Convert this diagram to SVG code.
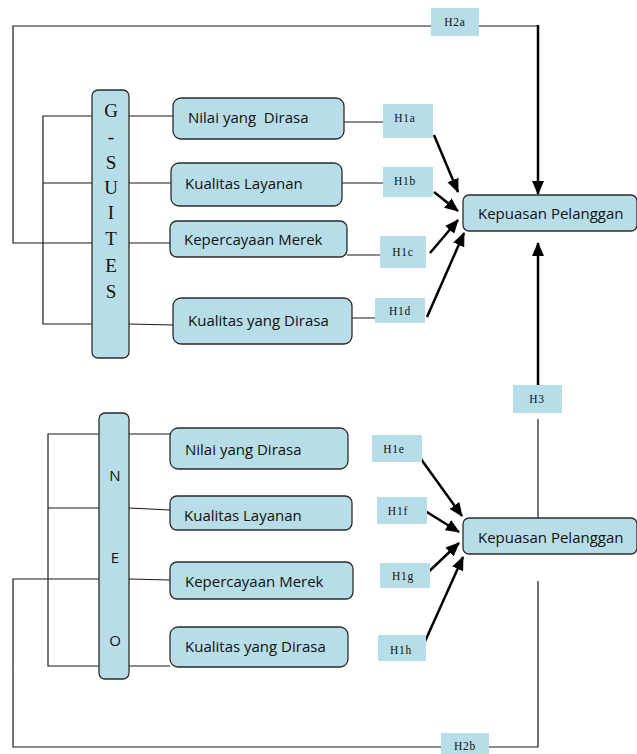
<svg xmlns="http://www.w3.org/2000/svg" width="637" height="754" viewBox="0 0 637 754">
<style>
.box{fill:#b7dde8;stroke:#2b2b2b;stroke-width:1.3}
.hb{fill:#b7dde8;stroke:none}
.t{font-family:"Open Sans","Noto Sans","Liberation Sans",sans-serif;font-size:15px;fill:#111}
.h{font-family:"Liberation Serif","DejaVu Serif",serif;font-size:11.5px;fill:#111;letter-spacing:0.8px;text-anchor:middle}
.gs{font-family:"Liberation Serif","DejaVu Serif",serif;font-size:19px;fill:#111;text-anchor:middle}
.neo{font-family:"Open Sans","Noto Sans","Liberation Sans",sans-serif;font-size:15px;fill:#111;text-anchor:middle}
.ln{fill:none;stroke:#1a1a1a;stroke-width:1.2}
.ar{fill:none;stroke:#000;stroke-width:2.5;marker-end:url(#ah)}
</style>
<defs>
<marker id="ah" markerUnits="userSpaceOnUse" markerWidth="14" markerHeight="12" viewBox="0 0 14 12" refX="13" refY="6" orient="auto">
<path d="M0,0 L14,6 L0,12 z" fill="#000"/>
</marker>
</defs>
<g id="connectors">
<!-- H2a loop -->
<path class="ln" d="M92,243 H13 V26 H431"/>
<path class="ln" d="M479,26 H538"/>
<path class="ar" d="M538,25 V194"/>
<!-- G-SUITES bracket -->
<path class="ln" d="M92,116 H43 V324 H92 M43,183 H92"/>
<path class="ln" d="M129,116 H173 M129,183 H171 M129,243 H170 M129,324 L173,325"/>
<path class="ln" d="M344,122 H385 M342,183 H385 M347,255 H382 M347,318 H377"/>
<path class="ar" d="M434,135 L458,192"/>
<path class="ar" d="M434,192 L458,211"/>
<path class="ar" d="M430,253 L458,220"/>
<path class="ar" d="M427,317 L464,233"/>
<!-- H3 -->
<path class="ar" d="M538,385 V243"/>
<path class="ln" d="M538,419 V518"/>
<!-- NEO bracket -->
<path class="ln" d="M99,434 H48 V666 H99 M48,508 H99 M99,579 H13 V747 H441"/>
<path class="ln" d="M489,747 H538 V581"/>
<path class="ln" d="M129,434 H170 M129,508 L170,510 M129,579 L170,580 M129,666 H170"/>
<path class="ar" d="M413,448 L462,516"/>
<path class="ar" d="M422,509 L459,532"/>
<path class="ar" d="M422,578 L459,543"/>
<path class="ar" d="M422,648 L463,557"/>
</g>
<g id="gsuites">
<rect class="box" x="92" y="90" width="37" height="268" rx="6"/>
<text class="gs" x="111" y="117">G</text>
<text class="gs" x="111" y="143">-</text>
<text class="gs" x="111" y="169">S</text>
<text class="gs" x="111" y="194">U</text>
<text class="gs" x="111" y="219">I</text>
<text class="gs" x="111" y="245">T</text>
<text class="gs" x="111" y="272">E</text>
<text class="gs" x="111" y="298">S</text>
</g>
<g id="nilai1"><rect class="box" x="173" y="98" width="171" height="41" rx="8"/><text class="t" x="188" y="123" xml:space="preserve">Nilai yang  Dirasa</text></g>
<g id="layanan1"><rect class="box" x="171" y="163" width="171" height="43" rx="8"/><text class="t" x="185" y="189">Kualitas Layanan</text></g>
<g id="merek1"><rect class="box" x="170" y="221" width="177" height="36" rx="7"/><text class="t" x="184" y="245">Kepercayaan Merek</text></g>
<g id="kualitas1"><rect class="box" x="173" y="298" width="179" height="46" rx="8"/><text class="t" x="188" y="326">Kualitas yang Dirasa</text></g>
<g id="h1a"><rect class="hb" x="383" y="104" width="50" height="34"/><text class="h" x="405" y="122">H1a</text></g>
<g id="h1b"><rect class="hb" x="383" y="167" width="50" height="30"/><text class="h" x="405" y="185">H1b</text></g>
<g id="h1c"><rect class="hb" x="380" y="236" width="46" height="32"/><text class="h" x="403" y="256">H1c</text></g>
<g id="h1d"><rect class="hb" x="375" y="298" width="50" height="25"/><text class="h" x="400" y="315">H1d</text></g>
<g id="h2a"><rect class="hb" x="431" y="8" width="48" height="28"/><text class="h" x="455" y="26">H2a</text></g>
<g id="kepuasan1"><rect class="box" x="463" y="195" width="174" height="36" rx="6"/><text class="t" x="478" y="219">Kepuasan Pelanggan</text></g>
<g id="h3"><rect class="hb" x="513" y="385" width="49" height="28"/><text class="h" x="537" y="403">H3</text></g>
<g id="kepuasan2"><rect class="box" x="463" y="518" width="174" height="36" rx="6"/><text class="t" x="478" y="543">Kepuasan Pelanggan</text></g>
<g id="neo">
<rect class="box" x="99" y="413" width="30" height="266" rx="6"/>
<text class="neo" x="115" y="481">N</text>
<text class="neo" x="115" y="563">E</text>
<text class="neo" x="115" y="646">O</text>
</g>
<g id="nilai2"><rect class="box" x="170" y="428" width="178" height="41" rx="8"/><text class="t" x="185" y="455">Nilai yang Dirasa</text></g>
<g id="layanan2"><rect class="box" x="170" y="496" width="182" height="34" rx="7"/><text class="t" x="184" y="521">Kualitas Layanan</text></g>
<g id="merek2"><rect class="box" x="170" y="562" width="183" height="37" rx="7"/><text class="t" x="185" y="587">Kepercayaan Merek</text></g>
<g id="kualitas2"><rect class="box" x="170" y="627" width="178" height="40" rx="8"/><text class="t" x="185" y="652">Kualitas yang Dirasa</text></g>
<g id="h1e"><rect class="hb" x="372" y="435" width="50" height="27"/><text class="h" x="394" y="453">H1e</text></g>
<g id="h1f"><rect class="hb" x="377" y="497" width="50" height="27"/><text class="h" x="398" y="515">H1f</text></g>
<g id="h1g"><rect class="hb" x="380" y="563" width="50" height="25"/><text class="h" x="403" y="580">H1g</text></g>
<g id="h1h"><rect class="hb" x="378" y="635" width="48" height="26"/><text class="h" x="401" y="654">H1h</text></g>
<g id="h2b"><rect class="hb" x="441" y="733" width="48" height="21"/><text class="h" x="465" y="750">H2b</text></g>
</svg>
